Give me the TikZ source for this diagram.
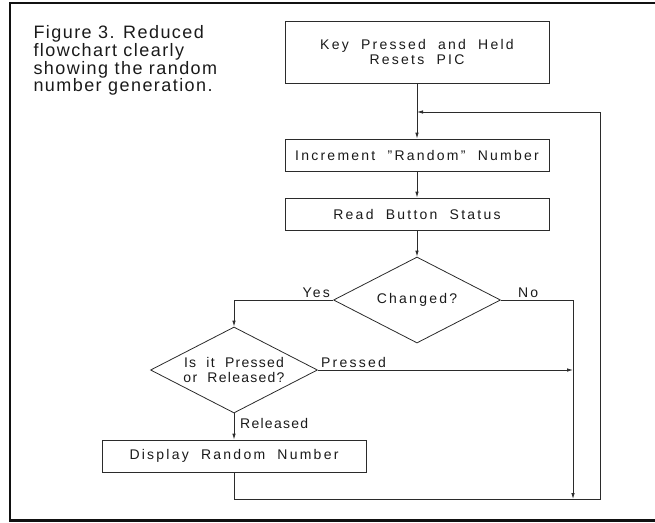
\documentclass[tikz,border=0pt]{standalone}
\usepackage{fontspec}
\usepackage{xcolor}
\usetikzlibrary{arrows.meta,calc,positioning,shapes.geometric}
\setmainfont{Liberation Sans}
\newfontfamily\captionfont[LetterSpace=8]{Liberation Sans}
\newfontfamily\cadfont[LetterSpace=16,WordSpace=2]{Liberation Sans}
\newfontfamily\cadnarrow[LetterSpace=9,WordSpace=2]{Liberation Sans}
\definecolor{chartLine}{HTML}{2B2B2B}
\definecolor{chartInk}{HTML}{1A1A1A}
\definecolor{chartFrame}{HTML}{111111}

\begin{document}
\begin{tikzpicture}[x=1pt,y=-1pt,
    every node/.style={font=\cadfont\fontsize{14}{15}\selectfont, text=chartInk},
    procbox/.style={draw=chartLine, line width=0.8pt, rectangle, minimum width=264pt, minimum height=32pt, inner sep=0pt, align=center},
    testbox/.style={draw=chartLine, line width=0.8pt, diamond, aspect=2, inner sep=-8pt, minimum width=167pt, minimum height=86pt, align=center},
    flow/.style={draw=chartLine, line width=0.8pt, -{Latex[length=6pt,width=3.5pt]}},
    wire/.style={draw=chartLine, line width=0.8pt}]
    \useasboundingbox (0,0) rectangle (655,522);
    \draw[line width=2.5pt, chartFrame] (655,3) -- (10,3) -- (10,520.5) -- (655,520.5);
    \node[anchor=north west, align=left, font=\captionfont\fontsize{18}{15}\selectfont] (caption) at (30,22)
      {Figure 3. Reduced\\flowchart clearly\\showing the random\\number generation.};
    % boxes of the chart
    \node[procbox, minimum height=62pt] (reset) at (417,52) {Key Pressed and Held\\Resets PIC};
    \node[procbox] (incr) at (417,155) {Increment ”Random” Number};
    \node[procbox] (read) at (417,214) {Read Button Status};
    \node[testbox] (changed) at (417,300) {Changed?};
    \node[testbox, font=\cadnarrow\fontsize{14}{15}\selectfont] (which) at (234,370) {Is it Pressed\\or Released?};
    \node[procbox] (show) at (234,456) {Display Random Number};
    \coordinate (join) at (417,112);
    \coordinate (noturn) at (573,300);
    \coordinate (nodown) at (573,499);
    \coordinate (yesturn) at (234,300);
    \coordinate (pressend) at (573,370);
    \coordinate (loopbl) at (234,499);
    \coordinate (loopbr) at (600,499);
    \coordinate (looptr) at (600,112);
    % connectors
    \draw[flow] (reset.south) -- (incr.north);
    \draw[flow] (incr.south) -- (read.north);
    \draw[flow] (read.south) -- (changed.north);
    \draw[wire] (changed.east) -- (noturn);
    \draw[flow] (noturn) -- (nodown);
    \draw[wire] (changed.west) -- (yesturn);
    \draw[flow] (yesturn) -- (which.north);
    \draw[flow] (which.east) -- (pressend);
    \draw[flow] (which.south) -- (show.north);
    \draw[wire] (show.south) -- (loopbl) -- (loopbr) -- (looptr);
    \draw[flow] (looptr) -- (join);
    % branch labels
    \node[anchor=south west, inner sep=1pt] (nolbl) at ($(changed.east)+(16,-1)$) {No};
    \node[anchor=south east, inner sep=1pt] (yeslbl) at ($(changed.west)+(-2,-1)$) {Yes};
    \node[anchor=south west, inner sep=1pt] (presslbl) at ($(which.east)+(2,-1)$) {Pressed};
    \node[anchor=west, inner sep=1pt, font=\cadnarrow\fontsize{14}{15}\selectfont] (rellbl) at (239,423) {Released};
  \end{tikzpicture}
\end{document}
